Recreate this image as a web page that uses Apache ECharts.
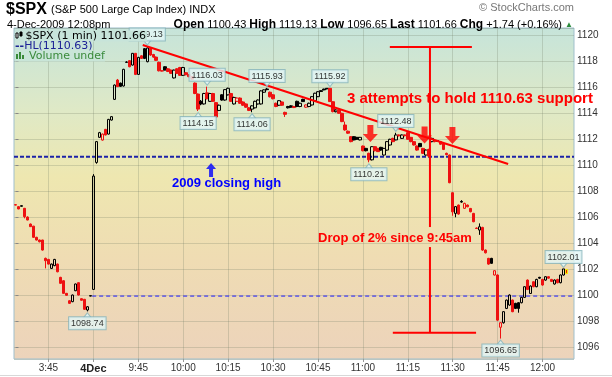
<!DOCTYPE html>
<html><head><meta charset="utf-8">
<script src="https://cdn.jsdelivr.net/npm/echarts@6/dist/echarts.min.js"></script>
<style>html,body{margin:0;padding:0;background:#fff}#c{width:612px;height:377px}</style>
</head><body><div id="c"></div>
<script>
// ---- categories (1-minute bars) ----
const dec3Minutes = ['15:34','15:35','15:36','15:37','15:38','15:39','15:40','15:41','15:42','15:43','15:44','15:45','15:46','15:47','15:48','15:49','15:50','15:51','15:52','15:53','15:54','15:55','15:56','15:57','15:58','15:59'];
const dec4Start = [9, 30], dec4End = [12, 10];
const dec4Minutes = [];
for (let t = dec4Start[0]*60+dec4Start[1]; t <= dec4End[0]*60+dec4End[1]; t++) {
  dec4Minutes.push(Math.floor(t/60) + ':' + String(t%60).padStart(2,'0'));
}
const categories = dec3Minutes.concat(dec4Minutes);

// tick labels
const tickCats  = ['15:45','9:30','9:45','10:00','10:15','10:30','10:45','11:00','11:15','11:30','11:45','12:00'];
const tickTexts = ['3:45','4Dec','9:45','10:00','10:15','10:30','10:45','11:00','11:15','11:30','11:45','12:00'];

// ---- OHLC data: [open, close, low, high] ----
const dec3Candles = [
[1106.95,1106.92,1106.90,1107.00],[1106.80,1106.62,1106.60,1106.85],[1106.87,1106.83,1106.80,1106.90],
[1106.67,1106.03,1105.90,1106.70],[1106.00,1105.77,1105.75,1106.05],[1105.46,1105.26,1105.24,1105.50],
[1105.30,1104.44,1104.40,1105.32],[1104.44,1104.23,1104.20,1104.48],[1104.23,1104.10,1104.05,1104.26],
[1104.23,1103.46,1103.42,1104.25],[1102.82,1102.64,1102.05,1102.88],[1102.74,1102.38,1102.35,1102.78],
[1102.05,1102.38,1102.00,1102.42],[1102.26,1102.74,1102.22,1102.78],[1102.38,1101.79,1101.75,1102.42],
[1101.36,1100.90,1100.86,1101.40],[1101.10,1100.13,1100.10,1101.14],[1100.13,1099.98,1099.95,1100.16],
[1099.56,1099.36,1099.33,1099.60],[1099.49,1100.00,1099.45,1100.04],[1100.33,1100.85,1100.30,1100.88],
[1100.95,1100.00,1099.97,1100.98],[1099.72,1099.60,1099.57,1099.75],[1099.67,1098.90,1098.86,1099.70],
[1098.85,1099.10,1098.74,1099.14],[1099.95,1099.92,1099.90,1099.98]
];
const dec4Candles = [
[1100.43,1109.15,1100.40,1109.30],[1110.20,1111.80,1110.10,1111.85],[1112.13,1112.49,1112.10,1112.55],
[1111.92,1112.38,1111.88,1112.42],[1112.74,1112.31,1112.28,1112.78],[1112.38,1113.51,1112.35,1113.55],
[1113.46,1113.72,1113.42,1113.76],[1115.05,1116.15,1115.00,1116.20],[1116.54,1116.03,1116.00,1116.62],
[1116.30,1116.05,1116.02,1116.34],[1116.08,1117.36,1116.04,1117.40],[1117.92,1117.90,1117.85,1117.98],
[1118.03,1117.56,1117.52,1118.06],[1117.69,1118.59,1117.65,1118.62],[1118.59,1116.97,1116.92,1118.62],
[1116.97,1118.28,1116.94,1118.32],[1118.40,1118.20,1118.16,1118.45],[1118.95,1118.20,1118.15,1119.00],
[1117.95,1119.00,1117.90,1119.13],[1118.97,1118.46,1118.40,1119.02],[1118.50,1118.30,1118.25,1118.55],
[1118.30,1118.05,1118.00,1118.35],[1117.90,1117.25,1117.20,1117.95],[1117.25,1117.23,1117.20,1117.28],
[1117.56,1117.30,1117.28,1117.60],[1117.40,1117.20,1117.15,1117.45],[1117.30,1117.05,1117.00,1117.35],
[1116.70,1117.30,1116.66,1117.34],[1117.40,1117.05,1117.00,1117.45],[1117.50,1116.90,1116.85,1117.55],
[1116.90,1117.50,1116.85,1117.55],[1117.10,1116.95,1116.90,1117.15],[1116.95,1116.80,1116.75,1117.00],
[1116.80,1116.60,1116.55,1116.85],[1116.30,1115.50,1115.45,1116.35],[1115.46,1114.30,1114.15,1115.50],
[1114.90,1114.70,1114.60,1115.00],[1114.70,1115.50,1114.65,1115.55],[1115.55,1115.10,1115.05,1116.03],
[1114.90,1115.50,1114.85,1115.55],[1115.50,1114.90,1114.85,1115.55],[1114.80,1113.70,1113.65,1114.85],
[1114.20,1114.60,1114.15,1114.65],[1115.40,1115.00,1114.95,1115.45],[1115.00,1115.80,1114.95,1115.85],
[1115.40,1115.90,1115.35,1115.95],[1115.50,1114.90,1114.85,1115.55],[1114.70,1115.20,1114.65,1115.25],
[1114.90,1115.15,1114.85,1115.20],[1115.15,1114.75,1114.70,1115.20],[1114.85,1114.60,1114.55,1114.90],
[1114.70,1114.45,1114.40,1114.75],[1114.40,1114.20,1114.15,1114.45],[1114.30,1114.55,1114.06,1114.60],
[1114.40,1114.90,1114.35,1114.95],[1114.70,1115.00,1114.65,1115.05],[1114.70,1115.70,1114.65,1115.75],
[1115.60,1115.78,1115.55,1115.82],[1115.85,1115.80,1115.75,1115.93],[1115.60,1115.25,1115.20,1115.65],
[1115.40,1115.10,1115.05,1115.45],[1114.75,1114.50,1114.45,1114.80],[1114.60,1114.95,1114.55,1115.00],
[1114.85,1114.60,1114.55,1114.90],[1114.05,1113.90,1113.70,1114.10],[1114.50,1114.40,1114.35,1114.55],
[1114.55,1114.45,1114.40,1114.60],[1114.50,1114.42,1114.38,1114.55],[1114.90,1114.50,1114.45,1114.95],
[1114.50,1114.75,1114.45,1114.80],[1115.05,1114.88,1114.85,1115.10],[1114.45,1114.62,1114.40,1114.66],
[1114.50,1114.75,1114.45,1114.80],[1114.62,1115.26,1114.58,1115.30],[1114.95,1115.52,1114.90,1115.56],
[1115.26,1115.64,1115.22,1115.68],[1115.72,1115.66,1115.62,1115.75],[1115.84,1115.78,1115.75,1115.87],
[1115.90,1115.86,1115.82,1115.91],[1115.90,1114.88,1114.85,1115.92],[1114.87,1114.11,1114.05,1114.90],
[1114.10,1114.23,1114.05,1114.28],[1114.23,1113.98,1113.95,1114.27],[1113.98,1113.34,1113.30,1114.02],
[1113.08,1112.70,1112.64,1113.34],[1112.60,1112.45,1112.40,1112.65],[1112.18,1111.80,1111.75,1112.22],
[1112.18,1111.93,1111.90,1112.22],[1112.13,1111.98,1111.95,1112.16],[1111.93,1112.13,1111.90,1112.16],
[1111.46,1111.10,1111.05,1111.50],[1111.28,1111.10,1111.05,1111.32],[1110.90,1110.40,1110.21,1110.95],
[1110.40,1111.41,1110.35,1111.45],[1111.41,1111.10,1111.05,1111.45],[1111.28,1111.03,1111.00,1111.32],
[1111.36,1111.15,1111.10,1111.40],[1110.77,1111.28,1110.72,1111.32],[1111.15,1111.80,1111.10,1111.85],
[1111.54,1111.98,1111.50,1112.02],[1112.05,1111.80,1111.75,1112.10],[1111.93,1112.31,1111.90,1112.48],
[1112.31,1112.25,1112.20,1112.35],[1112.05,1112.31,1112.00,1112.35],[1112.31,1112.26,1112.20,1112.35],
[1112.49,1111.98,1111.95,1112.52],[1112.13,1111.80,1111.75,1112.16],[1111.80,1111.54,1111.50,1111.84],
[1111.46,1111.15,1111.10,1111.50],[1111.66,1111.41,1111.38,1111.70],[1111.28,1110.90,1110.85,1111.32],
[1110.77,1111.15,1110.72,1111.20],[1111.20,1110.69,1110.60,1111.25],[1111.80,1112.05,1111.75,1112.10],
[1111.85,1111.80,1111.75,1111.90],[1111.88,1111.82,1111.78,1111.92],[1111.80,1111.60,1111.55,1111.85],
[1111.66,1111.20,1111.15,1111.70],[1110.90,1110.80,1110.75,1110.95],[1110.77,1108.64,1108.60,1110.80],
[1107.87,1106.40,1106.10,1107.90],[1106.28,1106.80,1105.98,1106.85],[1106.92,1106.23,1106.18,1106.96],
[1107.20,1107.15,1107.10,1107.30],[1106.67,1107.05,1106.62,1107.10],[1106.92,1106.79,1106.75,1106.96],
[1106.66,1106.41,1106.36,1106.70],[1106.28,1105.64,1105.60,1106.32],[1105.15,1105.12,1105.08,1105.20],
[1105.00,1105.25,1104.63,1105.51],[1105.20,1103.46,1103.40,1105.25],[1103.46,1103.25,1103.20,1103.50],
[1102.82,1102.38,1102.33,1102.86],[1102.82,1102.44,1102.40,1102.86],[1101.54,1101.87,1101.50,1101.90],
[1101.54,1098.07,1098.02,1101.58],[1097.52,1097.87,1096.65,1097.90],[1097.87,1098.72,1097.80,1098.76],
[1098.97,1099.61,1098.92,1099.65],[1099.23,1100.00,1099.18,1100.05],[1099.61,1098.72,1098.68,1099.65],
[1099.36,1098.97,1098.92,1099.40],[1099.41,1098.97,1098.64,1099.45],[1099.41,1099.82,1099.36,1099.86],
[1099.82,1100.64,1099.78,1100.68],[1101.15,1100.43,1100.38,1101.20],[1100.12,1100.69,1100.08,1100.74],
[1101.02,1100.64,1100.60,1101.06],[1100.64,1101.20,1100.60,1101.25],[1101.36,1101.30,1101.25,1101.40],
[1101.20,1100.77,1100.72,1101.25],[1101.15,1101.41,1101.10,1101.45],[1101.41,1101.30,1101.25,1101.45],
[1101.20,1101.05,1101.00,1101.24],[1100.85,1101.15,1100.80,1101.20],[1101.20,1100.95,1100.90,1101.25],
[1100.95,1101.54,1100.90,1101.58],[1101.54,1102.01,1101.50,1102.01],[1101.97,1101.66,1101.60,1102.00]
];

// overlays
const hlLevel = 1110.63;
const prevClose = 1099.92;
const highIdx = [44, 64, 84, 105, 127, 183];
const highVal = [1119.13, 1116.03, 1115.93, 1115.92, 1112.48, 1102.01];
const lowIdx  = [24, 61, 79, 118, 162];
const lowVal  = [1098.74, 1114.15, 1114.06, 1110.21, 1096.65];

// annotation drawing (bar-index, price)
const trendLine   = [[42.5, 1119.23], [164.5, 1110.08]];
const dropLineTop = [[138.4, 1119.08], [138.4, 1105.23]];
const dropLineBot = [[138.4, 1103.69], [138.4, 1097.10]];
const dropCapTop  = [[125.0, 1119.08], [152.4, 1119.08]];
const dropCapBot  = [[126.0, 1097.10], [153.8, 1097.10]];
const redArrowX = [118.5, 136.6, 145.9];
const redArrowY = [1112.42, 1112.31, 1112.27];
const blueArrowX = [65.3];
const blueArrowY = [1109.62];

const RED = '#ee1111';
const GRIDC = 'rgba(110,125,100,0.25)';
const LBL_BG = '#e4f6f6', LBL_BD = '#86b4bc';

const allCandles = dec3Candles.concat(dec4Candles);
const lastIdx = allCandles.length - 1;
const candleData = allCandles.map((d, k) => {
  const [o, c, l, h] = d;
  const prev = k === 0 ? o : allCandles[k-1][1];
  const isRed = c < prev;
  const col = isRed ? RED : '#000000';
  const fill = c > o ? 'rgba(0,0,0,0)' : col;
  const st = {color: fill, color0: fill, borderColor: col, borderColor0: col};
  if (k === lastIdx) { st.color = st.color0 = RED; st.borderColor = st.borderColor0 = '#f4f000'; }
  return {value: [o, c, l, h], itemStyle: st};
});

const isTick = (idx, val) => tickCats.indexOf(val) >= 0;

function seg(pts, color, width, type, z) {
  return {type: 'line', xAxisIndex: 1, data: pts, symbol: 'none', silent: true,
    lineStyle: {color: color, width: width, type: type || 'solid'}, z: z || 4, animation: false};
}

const labelBox = {show: true, fontSize: 9, fontFamily: 'Liberation Sans, Arial, sans-serif', color: '#000',
  backgroundColor: LBL_BG, borderColor: LBL_BD, borderWidth: 1, padding: [2, 2, 1, 2], lineHeight: 9,
  formatter: p => p.value[1].toFixed(2)};

const chart = echarts.init(document.getElementById('c'), null, {renderer: 'canvas'});
const option = {
  animation: false,
  backgroundColor: '#ffffff',
  grid: {left: 14, right: 38, top: 28, bottom: 18, show: true,
    backgroundColor: new echarts.graphic.LinearGradient(0, 0, 0, 1, [
      {offset: 0, color: '#c6e4da'}, {offset: 0.25, color: '#dfe9c6'}, {offset: 0.45, color: '#eee7b0'},
      {offset: 0.7, color: '#efdcb3'}, {offset: 1, color: '#ecd3bb'}]),
    borderColor: '#9fbfcc', borderWidth: 1},
  xAxis: [
    {type: 'category', data: categories, boundaryGap: true,
      axisLine: {show: false},
      axisTick: {show: true, alignWithLabel: true, interval: isTick, length: 3, lineStyle: {color: '#999'}},
      axisLabel: {interval: isTick, margin: 4, fontSize: 10, color: '#333', fontFamily: 'Liberation Sans, Arial, sans-serif',
        formatter: v => { const t = tickTexts[tickCats.indexOf(v)]; return v === '9:30' ? '{b|' + t + '}' : t; },
        rich: {b: {fontWeight: 'bold', fontSize: 11, color: '#222', fontFamily: 'Liberation Sans, Arial, sans-serif'}}},
      splitLine: {show: true, interval: isTick, alignWithLabel: true, lineStyle: {color: GRIDC, width: 1}}},
    {type: 'value', min: -0.5, max: categories.length - 0.5, show: false}
  ],
  yAxis: {type: 'value', position: 'right', min: 1095.08, max: 1120.54, splitNumber: 12, scale: true,
    axisLine: {show: false},
    axisTick: {show: true, length: 3, lineStyle: {color: '#888'}},
    axisLabel: {showMinLabel: false, showMaxLabel: false, margin: 3, fontSize: 10, color: '#333',
      fontFamily: 'Liberation Sans, Arial, sans-serif', formatter: v => String(Math.round(v))},
    splitLine: {show: true, lineStyle: {color: GRIDC, width: 1}}},
  series: [
    seg([[-0.5, hlLevel], [categories.length - 0.5, hlLevel]], '#1c22a8', 2, [4, 2], 2),
    seg([[25.6, prevClose], [categories.length - 0.5, prevClose]], '#1a1aff', 1, [4, 3], 2),
    {type: 'candlestick', xAxisIndex: 0, data: candleData, barWidth: 3, z: 3,
      itemStyle: {borderWidth: 1}},
    seg(trendLine, '#ff0000', 2, 'solid', 5),
    seg(dropLineTop, '#ff0000', 2, 'solid', 5),
    seg(dropLineBot, '#ff0000', 2, 'solid', 5),
    seg(dropCapTop, '#ff0000', 2, 'solid', 5),
    seg(dropCapBot, '#ff0000', 2, 'solid', 5),
    {type: 'scatter', xAxisIndex: 1, data: redArrowX.map((x, j) => [x, redArrowY[j]]), silent: true,
      symbol: 'path://M4.5,0 H10.5 V9 H15 L7.5,17 L0,9 H4.5 Z', symbolSize: [15, 17],
      itemStyle: {color: '#ff0000'}, z: 6},
    {type: 'scatter', xAxisIndex: 1, data: blueArrowX.map((x, j) => [x, blueArrowY[j]]), silent: true,
      symbol: 'path://M5,0 L10,6 H7 V14 H3 V6 H0 Z', symbolSize: [10, 14],
      itemStyle: {color: '#0000ff'}, z: 6},
    {type: 'scatter', xAxisIndex: 0, data: highIdx.map((k, j) => [k, highVal[j]]), silent: true,
      symbol: 'path://M0,0 L10,0 L5,6 Z', symbolSize: [8, 5], symbolOffset: [0, -4],
      itemStyle: {color: LBL_BG, borderColor: LBL_BD, borderWidth: 1},
      label: Object.assign({position: 'top', distance: -1}, labelBox), z: 7},
    {type: 'scatter', xAxisIndex: 0, data: lowIdx.map((k, j) => [k, lowVal[j]]), silent: true,
      symbol: 'path://M5,0 L10,6 L0,6 Z', symbolSize: [8, 5], symbolOffset: [0, 4],
      itemStyle: {color: LBL_BG, borderColor: LBL_BD, borderWidth: 1},
      label: Object.assign({position: 'bottom', distance: -1}, labelBox), z: 7}
  ],
  graphic: [
    // header
    {type: 'text', x: 6, y: 10, z: 100, style: {text: '$SPX', font: 'bold 16px "Liberation Sans", Arial', fill: '#000', verticalAlign: 'middle', textVerticalAlign: 'middle'}},
    {type: 'text', x: 51, y: 10, z: 100, style: {text: '(S&P 500 Large Cap Index) INDX', font: '11px "Liberation Sans", Arial', fill: '#000', verticalAlign: 'middle', textVerticalAlign: 'middle'}},
    {type: 'text', x: 574, y: 8, z: 100, style: {text: '© StockCharts.com', font: '11px "Liberation Sans", Arial', fill: '#777', align: 'right', textAlign: 'right', verticalAlign: 'middle', textVerticalAlign: 'middle'}},
    {type: 'text', x: 7, y: 25, z: 100, style: {text: '4-Dec-2009 12:08pm', font: '11px "Liberation Sans", Arial', fill: '#000', verticalAlign: 'middle', textVerticalAlign: 'middle'}},
    {type: 'text', x: 573, y: 25, z: 100, style: {
      text: '{b|Open} 1100.43 {b|High} 1119.13 {b|Low} 1096.65 {b|Last} 1101.66 {b|Chg} +1.74 (+0.16%) {g|▲}',
      font: '11px "Liberation Sans", Arial', fill: '#000', align: 'right', textAlign: 'right', verticalAlign: 'middle', textVerticalAlign: 'middle',
      rich: {b: {fontWeight: 'bold', fontSize: 12, fontFamily: 'Liberation Sans', fill: '#000'},
             g: {fontSize: 8, fill: '#2c8c3c'}}}},
    // in-plot legend
    {type: 'text', x: 15, y: 36, z: 100, style: {text: '   $SPX (1 min) 1101.66', font: '11px "DejaVu Sans", Verdana', fill: '#000',
      backgroundColor: '#c7e4da', padding: [0, 1, 0, 0], verticalAlign: 'middle', textVerticalAlign: 'middle'}},
    {type: 'rect', z: 101, shape: {x: 16, y: 33, width: 2, height: 5}, style: {fill: '#fff', stroke: '#000', lineWidth: 1}},
    {type: 'rect', z: 101, shape: {x: 20, y: 32, width: 2, height: 4}, style: {fill: '#000', stroke: '#000', lineWidth: 1}},
    {type: 'text', x: 15, y: 46, z: 100, style: {text: '{d|--}HL(1110.63)', font: '11px "DejaVu Sans", Verdana', fill: '#1c2296',
      backgroundColor: '#c8e4d9', verticalAlign: 'middle', textVerticalAlign: 'middle',
      rich: {d: {fontWeight: 'bold', fontSize: 11, fill: '#1c2296', fontFamily: 'DejaVu Sans'}}}},
    {type: 'text', x: 15, y: 56, z: 100, style: {text: '    Volume undef', font: '11px "DejaVu Sans", Verdana', fill: '#3a8a3a',
      backgroundColor: '#c9e5d8', verticalAlign: 'middle', textVerticalAlign: 'middle'}},
    {type: 'rect', z: 101, shape: {x: 16, y: 54, width: 2, height: 5}, style: {fill: '#3a8a3a'}},
    {type: 'rect', z: 101, shape: {x: 19, y: 52, width: 2, height: 7}, style: {fill: '#3a8a3a'}},
    {type: 'rect', z: 101, shape: {x: 22, y: 55, width: 2, height: 4}, style: {fill: '#3a8a3a'}},
    // annotations text
    {type: 'text', x: 347, y: 99, z: 90, style: {text: '3 attempts to hold 1110.63 support', font: 'bold 15px "Liberation Sans", Arial', fill: '#ff0000', verticalAlign: 'middle', textVerticalAlign: 'middle'}},
    {type: 'text', x: 172, y: 183, z: 90, style: {text: '2009 closing high', font: 'bold 13px "Liberation Sans", Arial', fill: '#0000ff', verticalAlign: 'middle', textVerticalAlign: 'middle'}},
    {type: 'text', x: 318, y: 238, z: 90, style: {text: 'Drop of 2% since 9:45am', font: 'bold 13px "Liberation Sans", Arial', fill: '#ff0000', verticalAlign: 'middle', textVerticalAlign: 'middle'}},
    {type: 'line', z: 90, shape: {x1: 0, y1: 375.5, x2: 612, y2: 375.5}, style: {stroke: '#d8d8d8', lineWidth: 1}}
  ]
};
chart.setOption(option);
</script>
</body></html>
